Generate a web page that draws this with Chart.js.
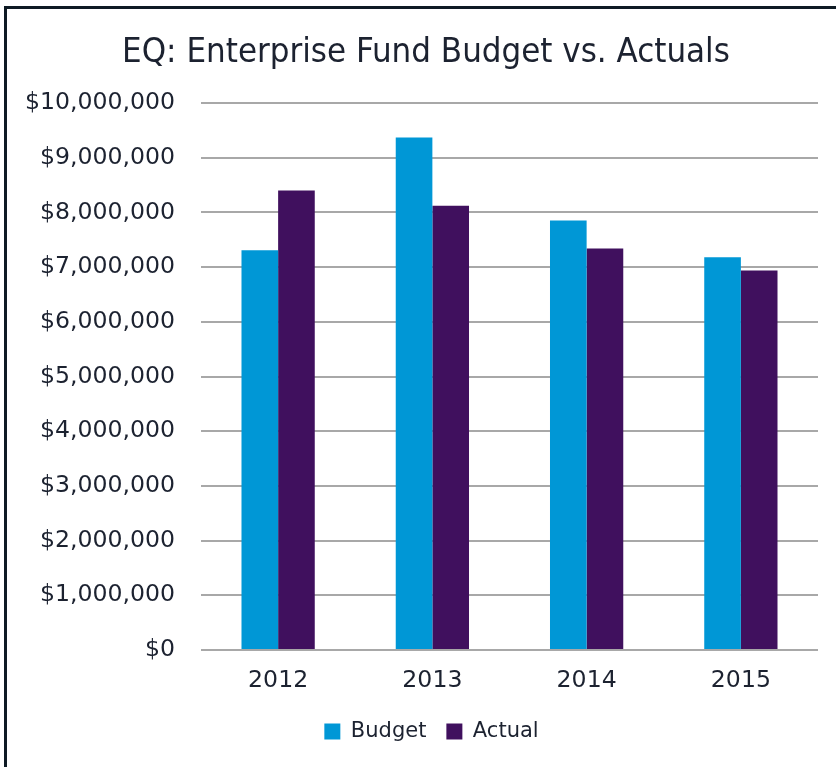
<!DOCTYPE html>
<html>
<head>
<meta charset="utf-8">
<script src="https://cdn.jsdelivr.net/npm/chart.js@4/dist/chart.umd.min.js"></script>
<style>
  html, body { margin: 0; padding: 0; background: #ffffff; }
  body { width: 836px; height: 767px; overflow: hidden; position: relative; }
  #frame { position: absolute; left: 4px; top: 6px; width: 900px; height: 900px;
           border: 3px solid #0e1a24; box-sizing: border-box; }
  #wrap { position: absolute; left: 0; top: 0; width: 836px; height: 767px; }
</style>
</head>
<body>
<div id="frame"></div>
<div id="wrap"><canvas id="c" width="836" height="767"></canvas></div>
<script>
const categories = ['2012', '2013', '2014', '2015'];
const budgetValues = [7310000, 9370000, 7850000, 7180000];
const actualValues = [8400000, 8120000, 7340000, 6940000];
const seriesNames = ['Budget', 'Actual'];
const yTickMax = 10000000;
const yTickStep = 1000000;

const textColor = '#1c2230';
const tickFont = { family: "'DejaVu Sans', sans-serif", size: 23.6 };

// shift the centring boxes of title and legend (reference centres them right of the canvas middle)
const centreShift = {
  id: 'centreShift',
  afterLayout(chart) {
    if (chart.titleBlock) { chart.titleBlock.left += 34; }
    if (chart.legend) { chart.legend.left += 45; }
  }
};

new Chart(document.getElementById('c'), {
  type: 'bar',
  data: {
    labels: categories,
    datasets: [
      { label: seriesNames[0], data: budgetValues, backgroundColor: '#0097D6', borderWidth: 0 },
      { label: seriesNames[1], data: actualValues, backgroundColor: '#40105E', borderWidth: 0 }
    ]
  },
  plugins: [centreShift],
  options: {
    responsive: false,
    animation: false,
    devicePixelRatio: 1,
    layout: { padding: { left: 0, right: 18, top: 0, bottom: 15 } },
    datasets: { bar: { categoryPercentage: 0.475, barPercentage: 1.0 } },
    scales: {
      x: {
        grid: { display: false, drawTicks: false },
        border: { display: false },
        ticks: { color: textColor, font: tickFont, padding: 17 },
        afterFit: (s) => { s.height = 51; }
      },
      y: {
        min: 0,
        max: yTickMax,
        ticks: {
          stepSize: yTickStep,
          color: textColor,
          font: tickFont,
          padding: 26,
          callback: (v) => '$' + Number(v).toLocaleString('en-US')
        },
        grid: { color: '#a8a8a8', lineWidth: 2, drawTicks: false },
        border: { display: false },
        afterFit: (s) => { s.width = 201; }
      }
    },
    plugins: {
      title: {
        display: true,
        text: 'EQ: Enterprise Fund Budget vs. Actuals',
        color: textColor,
        font: { family: "'Liberation Sans Narrow', 'DejaVu Sans Condensed', sans-serif", size: 34.5, weight: 'normal' },
        padding: { top: 32, bottom: 29.6 }
      },
      legend: {
        position: 'bottom',
        labels: {
          color: textColor,
          font: { family: "'DejaVu Sans', sans-serif", size: 21 },
          boxWidth: 16,
          boxHeight: 16,
          padding: 20
        }
      },
      tooltip: { enabled: false }
    }
  }
});
</script>
</body>
</html>
